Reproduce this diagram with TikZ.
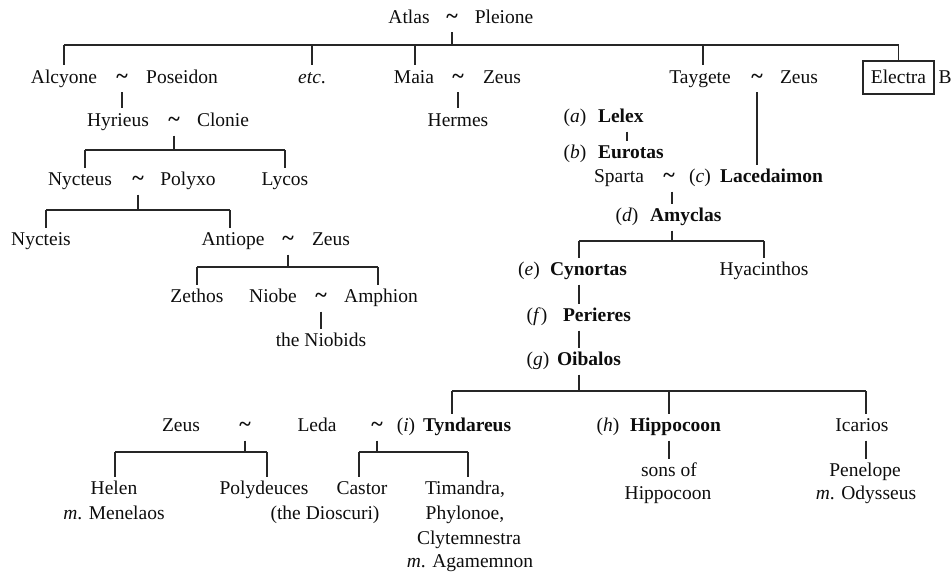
\documentclass[tikz,border=0pt]{standalone}
\usepackage{fontspec}
\setmainfont{Liberation Serif}
\begin{document}
\begin{tikzpicture}[x=1pt,y=-1pt,
  every node/.style={inner sep=0pt, outer sep=0pt, text=black!95,
    font=\fontsize{19.5}{23}\selectfont},
  person/.style={text height=13pt, text depth=4pt, outer ysep=5pt},
  heir/.style={person, font=\fontsize{19.5}{23}\selectfont\bfseries},
  tag/.style={person},
  wed/.style={person, font=\fontsize{22}{23}\selectfont\bfseries},
  boxed/.style={draw=black!85, line width=1.1pt, minimum width=71pt,
    minimum height=33pt, text height=13pt, text depth=1pt},
  link/.style={draw=black!85, line width=1.2pt}
]
\useasboundingbox (0,0) rectangle (952,575);

% ---------- Atlas and Pleione ----------
\node[person] (atlas)   at (409,19) {Atlas};
\node[wed]    (atlasT)  at (452,19) {\char`\~};
\node[person] (pleione) at (504,19) {Pleione};

% ---------- their daughters ----------
\node[person] (alcyone)  at (64,79)  {Alcyone};
\node[wed]    (alcT)     at (122,79) {\char`\~};
\node[person] (poseidon) at (182,79) {Poseidon};
\node[person] (etc)      at (312,79) {\textit{etc}.};
\node[person] (maia)     at (414,79) {Maia};
\node[wed]    (maiaT)    at (458,79) {\char`\~};
\node[person] (zeusA)    at (502,79) {Zeus};
\node[person] (taygete)  at (700,79) {Taygete};
\node[wed]    (tayT)     at (757,79) {\char`\~};
\node[person] (zeusB)    at (799,79) {Zeus};
\node[boxed]  (electra)  at (898.5,77.5) {Electra};
\node[person] (bref)     at (945,79) {B};

% ---------- line of Alcyone ----------
\node[person] (hyrieus) at (118,122) {Hyrieus};
\node[wed]    (hyrT)    at (174,122) {\char`\~};
\node[person] (clonie)  at (223,122) {Clonie};
\node[person] (hermes)  at (458,122) {Hermes};

\node[person] (nycteus) at (80,181)  {Nycteus};
\node[wed]    (nycT)    at (138,181) {\char`\~};
\node[person] (polyxo)  at (188,181) {Polyxo};
\node[person] (lycos)   at (285,181) {Lycos};

\node[person] (nycteis) at (41,241)  {Nycteis};
\node[person] (antiope) at (233,241) {Antiope};
\node[wed]    (antT)    at (288,241) {\char`\~};
\node[person] (zeusC)   at (331,241) {Zeus};

\node[person] (zethos)  at (197,298) {Zethos};
\node[person] (niobe)   at (273,298) {Niobe};
\node[wed]    (nioT)    at (321,298) {\char`\~};
\node[person] (amphion) at (381,298) {Amphion};
\node[person] (niobids) at (321,342) {the Niobids};

% ---------- kings of Sparta ----------
\node[tag]  (la)    at (575,118) {(\textit{a})};
\node[heir, anchor=west] (lelex)   at (598,118) {Lelex};
\node[tag]  (lb)    at (575,154) {(\textit{b})};
\node[heir, anchor=west] (eurotas) at (598,154) {Eurotas};
\node[person] (sparta) at (619,178) {Sparta};
\node[wed]    (spT)    at (669,178) {\char`\~};
\node[tag]    (lc)     at (700,178) {(\textit{c})};
\node[heir, anchor=west] (lacedaimon) at (720,178) {Lacedaimon};

\node[tag]  (ld)    at (627,217) {(\textit{d})};
\node[heir, anchor=west] (amyclas) at (650,217) {Amyclas};

\node[tag]  (le)    at (529,271) {(\textit{e})};
\node[heir, anchor=west] (cynortas) at (550,271) {Cynortas};
\node[person] (hyacinthos) at (764,271) {Hyacinthos};

\node[tag]  (lf)    at (537,317) {(\textit{f})};
\node[heir, anchor=west] (perieres) at (563,317) {Perieres};

\node[tag]  (lg)    at (538,361) {(\textit{g})};
\node[heir, anchor=west] (oibalos) at (557,361) {Oibalos};

% ---------- children of Oibalos ----------
\node[person] (zeusD)  at (181,427) {Zeus};
\node[wed]    (zlT)    at (245,427) {\char`\~};
\node[person] (leda)   at (317,427) {Leda};
\node[wed]    (ltT)    at (377,427) {\char`\~};
\node[tag]    (li)     at (406,427) {(\textit{i})};
\node[heir, anchor=west] (tyndareus) at (423,427) {Tyndareus};
\node[tag]    (lh)     at (608,427) {(\textit{h})};
\node[heir, anchor=west] (hippocoon) at (630,427) {Hippocoon};
\node[person] (icarios) at (862,427) {Icarios};

\node[person] (helen)      at (114,490) {Helen};
\node[person] (menelaos)   at (114,515) {\textit{m}. Menelaos};
\node[person] (polydeuces) at (264,490) {Polydeuces};
\node[person] (dioscuri)   at (325,515) {(the Dioscuri)};
\node[person] (castor)     at (362,490) {Castor};
\node[person] (timandra)   at (465,490) {Timandra,};
\node[person] (phylonoe)   at (465,515) {Phylonoe,};
\node[person] (clytem)     at (469,540) {Clytemnestra};
\node[person] (agamemnon)  at (470,563) {\textit{m}. Agamemnon};

\node[person] (sons)     at (669,472) {sons of};
\node[person] (sonsB)    at (668,495) {Hippocoon};
\node[person] (penelope) at (865,472) {Penelope};
\node[person] (odysseus) at (866,495) {\textit{m}. Odysseus};

% ---------- helper heights and columns ----------
\coordinate (b1) at (0,45);
\coordinate (b2) at (0,150);
\coordinate (b3) at (0,210);
\coordinate (b4) at (0,267);
\coordinate (b5) at (0,241);
\coordinate (b6) at (0,391);
\coordinate (b7) at (0,452);
\coordinate (lx) at (627,0);
\coordinate (ax) at (672,0);
\coordinate (ox) at (579,0);
\coordinate (tx) at (452,0);
\coordinate (hx) at (669,0);
\coordinate (ix) at (866,0);

% ---------- connectors ----------
% Atlas ~ Pleione
\draw[link] (atlasT) -- (atlasT |- b1);
\draw[link] (alcyone.north |- b1) -- (electra.north |- b1);
\draw[link] (alcyone.north |- b1) -- (alcyone.north);
\draw[link] (etc.north |- b1) -- (etc.north);
\draw[link] ([xshift=1pt]maia.north |- b1) -- ([xshift=1pt]maia.north);
\draw[link] ([xshift=3pt]taygete.north |- b1) -- ([xshift=3pt]taygete.north);
\draw[link] (electra.north |- b1) -- (electra.north);

% Alcyone ~ Poseidon
\draw[link] (alcT) -- (alcT |- hyrieus.north);
% Maia ~ Zeus
\draw[link] (maiaT) -- (maiaT |- hermes.north);
% Hyrieus ~ Clonie
\draw[link] (hyrT) -- (hyrT |- b2);
\draw[link] ([xshift=5pt]nycteus.north |- b2) -- (lycos.north |- b2);
\draw[link] ([xshift=5pt]nycteus.north |- b2) -- ([xshift=5pt]nycteus.north);
\draw[link] (lycos.north |- b2) -- (lycos.north);
% Nycteus ~ Polyxo
\draw[link] (nycT) -- (nycT |- b3);
\draw[link] ([xshift=5pt]nycteis.north |- b3) -- ([xshift=-3pt]antiope.north |- b3);
\draw[link] ([xshift=5pt]nycteis.north |- b3) -- ([xshift=5pt]nycteis.north);
\draw[link] ([xshift=-3pt]antiope.north |- b3) -- ([xshift=-3pt]antiope.north);
% Antiope ~ Zeus
\draw[link] (antT) -- (antT |- b4);
\draw[link] (zethos.north |- b4) -- ([xshift=-3pt]amphion.north |- b4);
\draw[link] (zethos.north |- b4) -- (zethos.north);
\draw[link] ([xshift=-3pt]amphion.north |- b4) -- ([xshift=-3pt]amphion.north);
% Niobe ~ Amphion
\draw[link] (nioT) -- (nioT |- niobids.north);

% Taygete ~ Zeus
\draw[link] (tayT) -- (tayT |- lacedaimon.north);
% Lelex to Eurotas
\draw[link] (lelex.south -| lx) -- (eurotas.north -| lx);
% Sparta ~ Lacedaimon
\draw[link] (spT.south -| ax) -- (amyclas.north -| ax);
% Amyclas
\draw[link] (amyclas.south -| ax) -- (ax |- b5);
\draw[link] (ox |- b5) -- (hyacinthos.north |- b5);
\draw[link] (ox |- b5) -- (cynortas.north -| ox);
\draw[link] (hyacinthos.north |- b5) -- (hyacinthos.north);
% Cynortas, Perieres, Oibalos
\draw[link] (cynortas.south -| ox) -- (perieres.north -| ox);
\draw[link] (perieres.south -| ox) -- (oibalos.north -| ox);
\draw[link] (oibalos.south -| ox) -- (ox |- b6);
\draw[link] (tx |- b6) -- (ix |- b6);
\draw[link] (tx |- b6) -- (tyndareus.north -| tx);
\draw[link] (hx |- b6) -- (hippocoon.north -| hx);
\draw[link] (ix |- b6) -- (icarios.north -| ix);
% Hippocoon and Icarios
\draw[link] (hippocoon.south -| hx) -- (sons.north -| hx);
\draw[link] (icarios.south -| ix) -- (penelope.north -| ix);

% Zeus ~ Leda
\draw[link] (zlT) -- (zlT |- b7);
\draw[link] ([xshift=1pt]helen.north |- b7) -- ([xshift=3pt]polydeuces.north |- b7);
\draw[link] ([xshift=1pt]helen.north |- b7) -- ([xshift=1pt]helen.north);
\draw[link] ([xshift=3pt]polydeuces.north |- b7) -- ([xshift=3pt]polydeuces.north);
% Leda ~ Tyndareus
\draw[link] (ltT) -- (ltT |- b7);
\draw[link] ([xshift=-3pt]castor.north |- b7) -- ([xshift=3pt]timandra.north |- b7);
\draw[link] ([xshift=-3pt]castor.north |- b7) -- ([xshift=-3pt]castor.north);
\draw[link] ([xshift=3pt]timandra.north |- b7) -- ([xshift=3pt]timandra.north);
\end{tikzpicture}
\end{document}
